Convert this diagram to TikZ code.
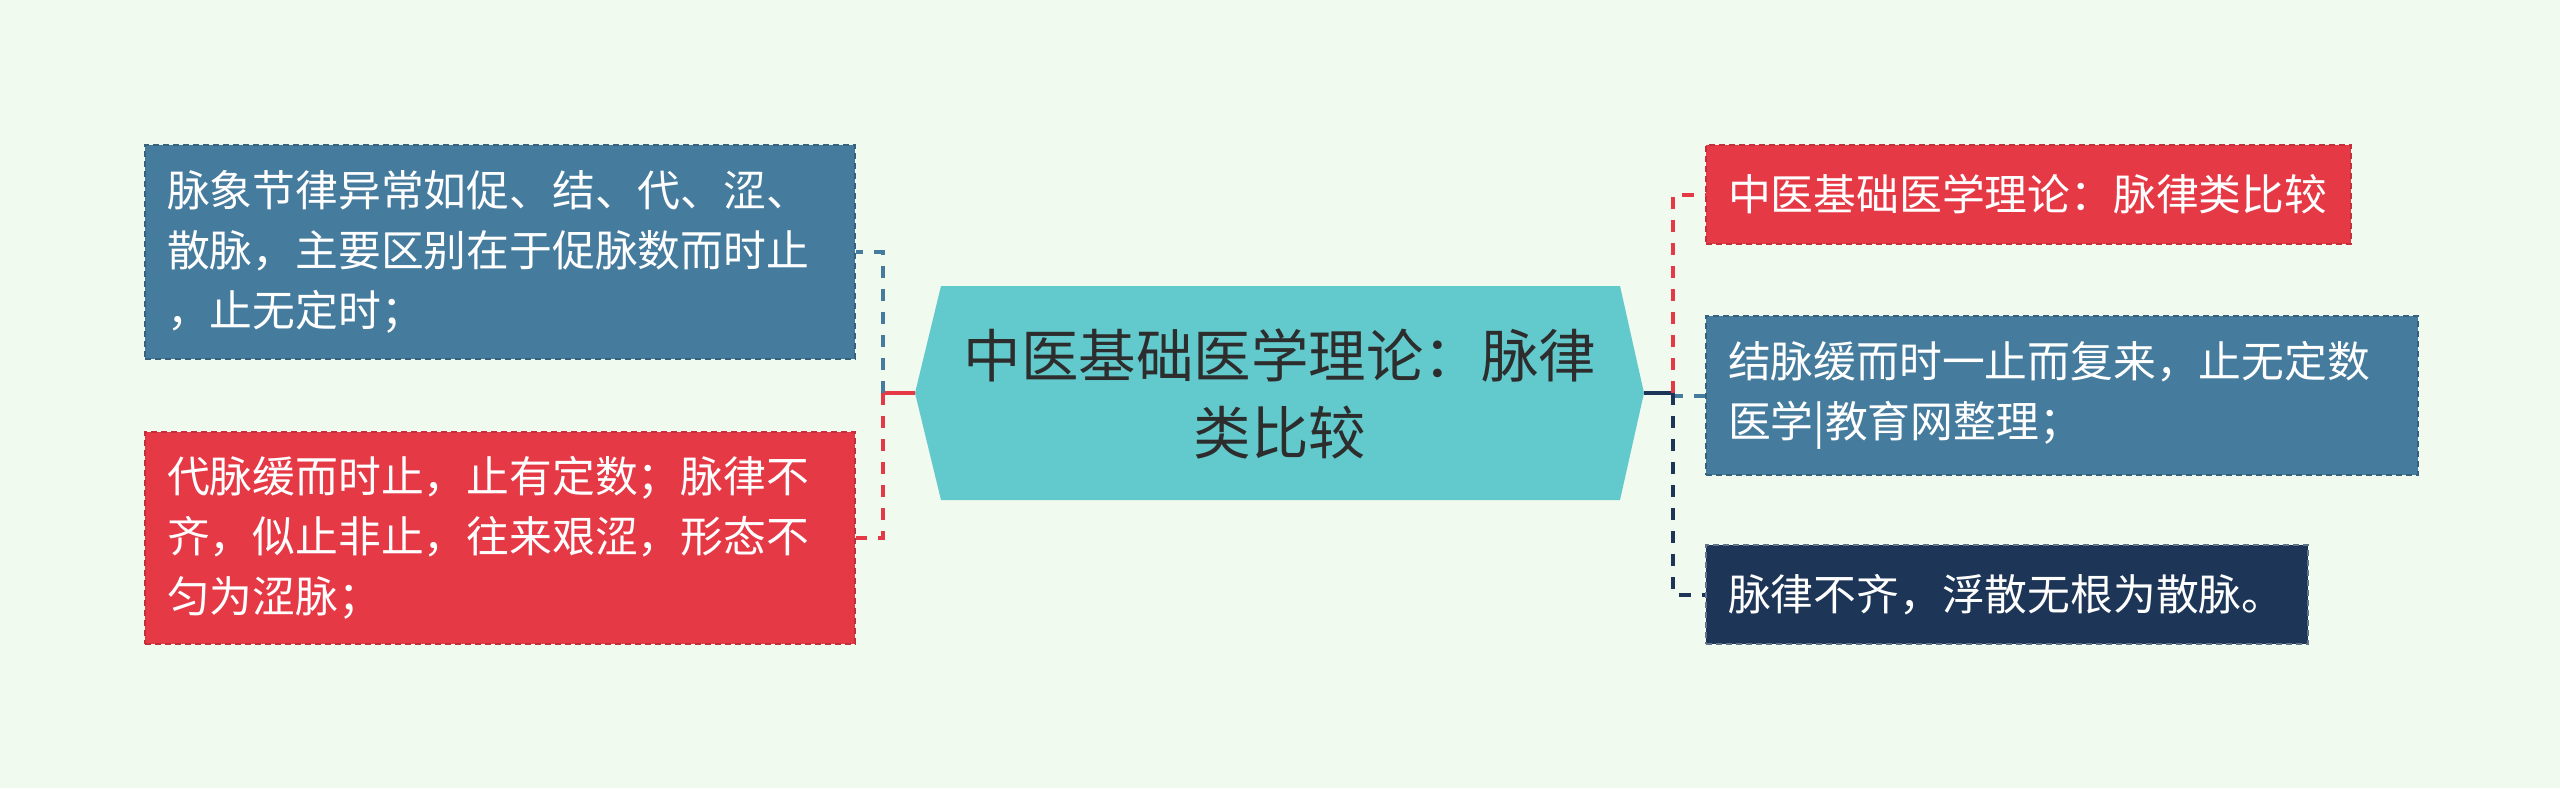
\documentclass[tikz,border=0pt]{standalone}
\usepackage{fontspec}
\newfontfamily\cjk{Noto Sans CJK SC}
\definecolor{bg}{HTML}{F1FAEE}
\definecolor{cblue}{HTML}{457B9D}
\definecolor{cred}{HTML}{E63946}
\definecolor{cnavy}{HTML}{1D3557}
\definecolor{cteal}{HTML}{62C9CC}
\definecolor{ctext}{HTML}{2D2D2D}
\begin{document}
\begin{tikzpicture}[x=1pt,y=-1pt,
  leaf/.style={anchor=north west, text=white, font=\cjk\fontsize{42.8}{60}\selectfont,
    align=left, inner xsep=22pt, inner ysep=0pt, dash pattern=on 6pt off 4pt, line width=2pt},
  conn/.style={line width=4pt, dash pattern=on 12pt off 11pt},
  stem/.style={line width=4pt}]
\fill[bg] (0,0) rectangle (2560,788);
\useasboundingbox (0,0) rectangle (2560,788);
% center
\fill[cteal] (941,286) -- (1620,286) -- (1644,393) -- (1620,500) -- (941,500) -- (915,393) -- cycle;
\node[font=\cjk\fontsize{57.5}{77}\selectfont, text=ctext, align=center] (c) at (1280,394) {中医基础医学理论：脉律\\类比较};
\coordinate (cl) at (915,393);
\coordinate (cr) at (1644,393);
\coordinate (lj) at (883,393);
\coordinate (rj) at (1673,393);
% leaves
\node[leaf, fill=cblue, draw=cblue!80!black, text width=666pt, minimum height=214pt] (lt) at (144,144)
  {脉象节律异常如促、结、代、涩、\\散脉，主要区别在于促脉数而时止\\，止无定时；};
\node[leaf, fill=cred, draw=cred!85!black, text width=666pt, minimum height=212pt] (lb) at (144,431)
  {代脉缓而时止，止有定数；脉律不\\齐，似止非止，往来艰涩，形态不\\匀为涩脉；};
\node[leaf, fill=cred, draw=cred!85!black, text width=601pt, minimum height=99pt] (r1) at (1705,144)
  {中医基础医学理论：脉律类比较};
\node[leaf, fill=cblue, draw=cblue!80!black, text width=668pt, minimum height=159pt] (r2) at (1705,315)
  {结脉缓而时一止而复来，止无定数\\医学|教育网整理；};
\node[leaf, fill=cnavy, draw=cnavy!70!white, text width=558pt, minimum height=99pt] (r3) at (1705,544)
  {脉律不齐，浮散无根为散脉。};
% connectors
\draw[stem, cred] (cl) -- (lj);
\draw[conn, cblue] (lj) |- (lt.east);
\draw[conn, cred] (lj) |- (lb.east);
\draw[stem, cnavy] (cr) -- (rj);
\draw[conn, cred] (rj) |- (r1.west);
\draw[conn, cblue] (rj) |- (r2.west);
\draw[conn, cnavy] (rj) |- (r3.west);
\end{tikzpicture}
\end{document}
